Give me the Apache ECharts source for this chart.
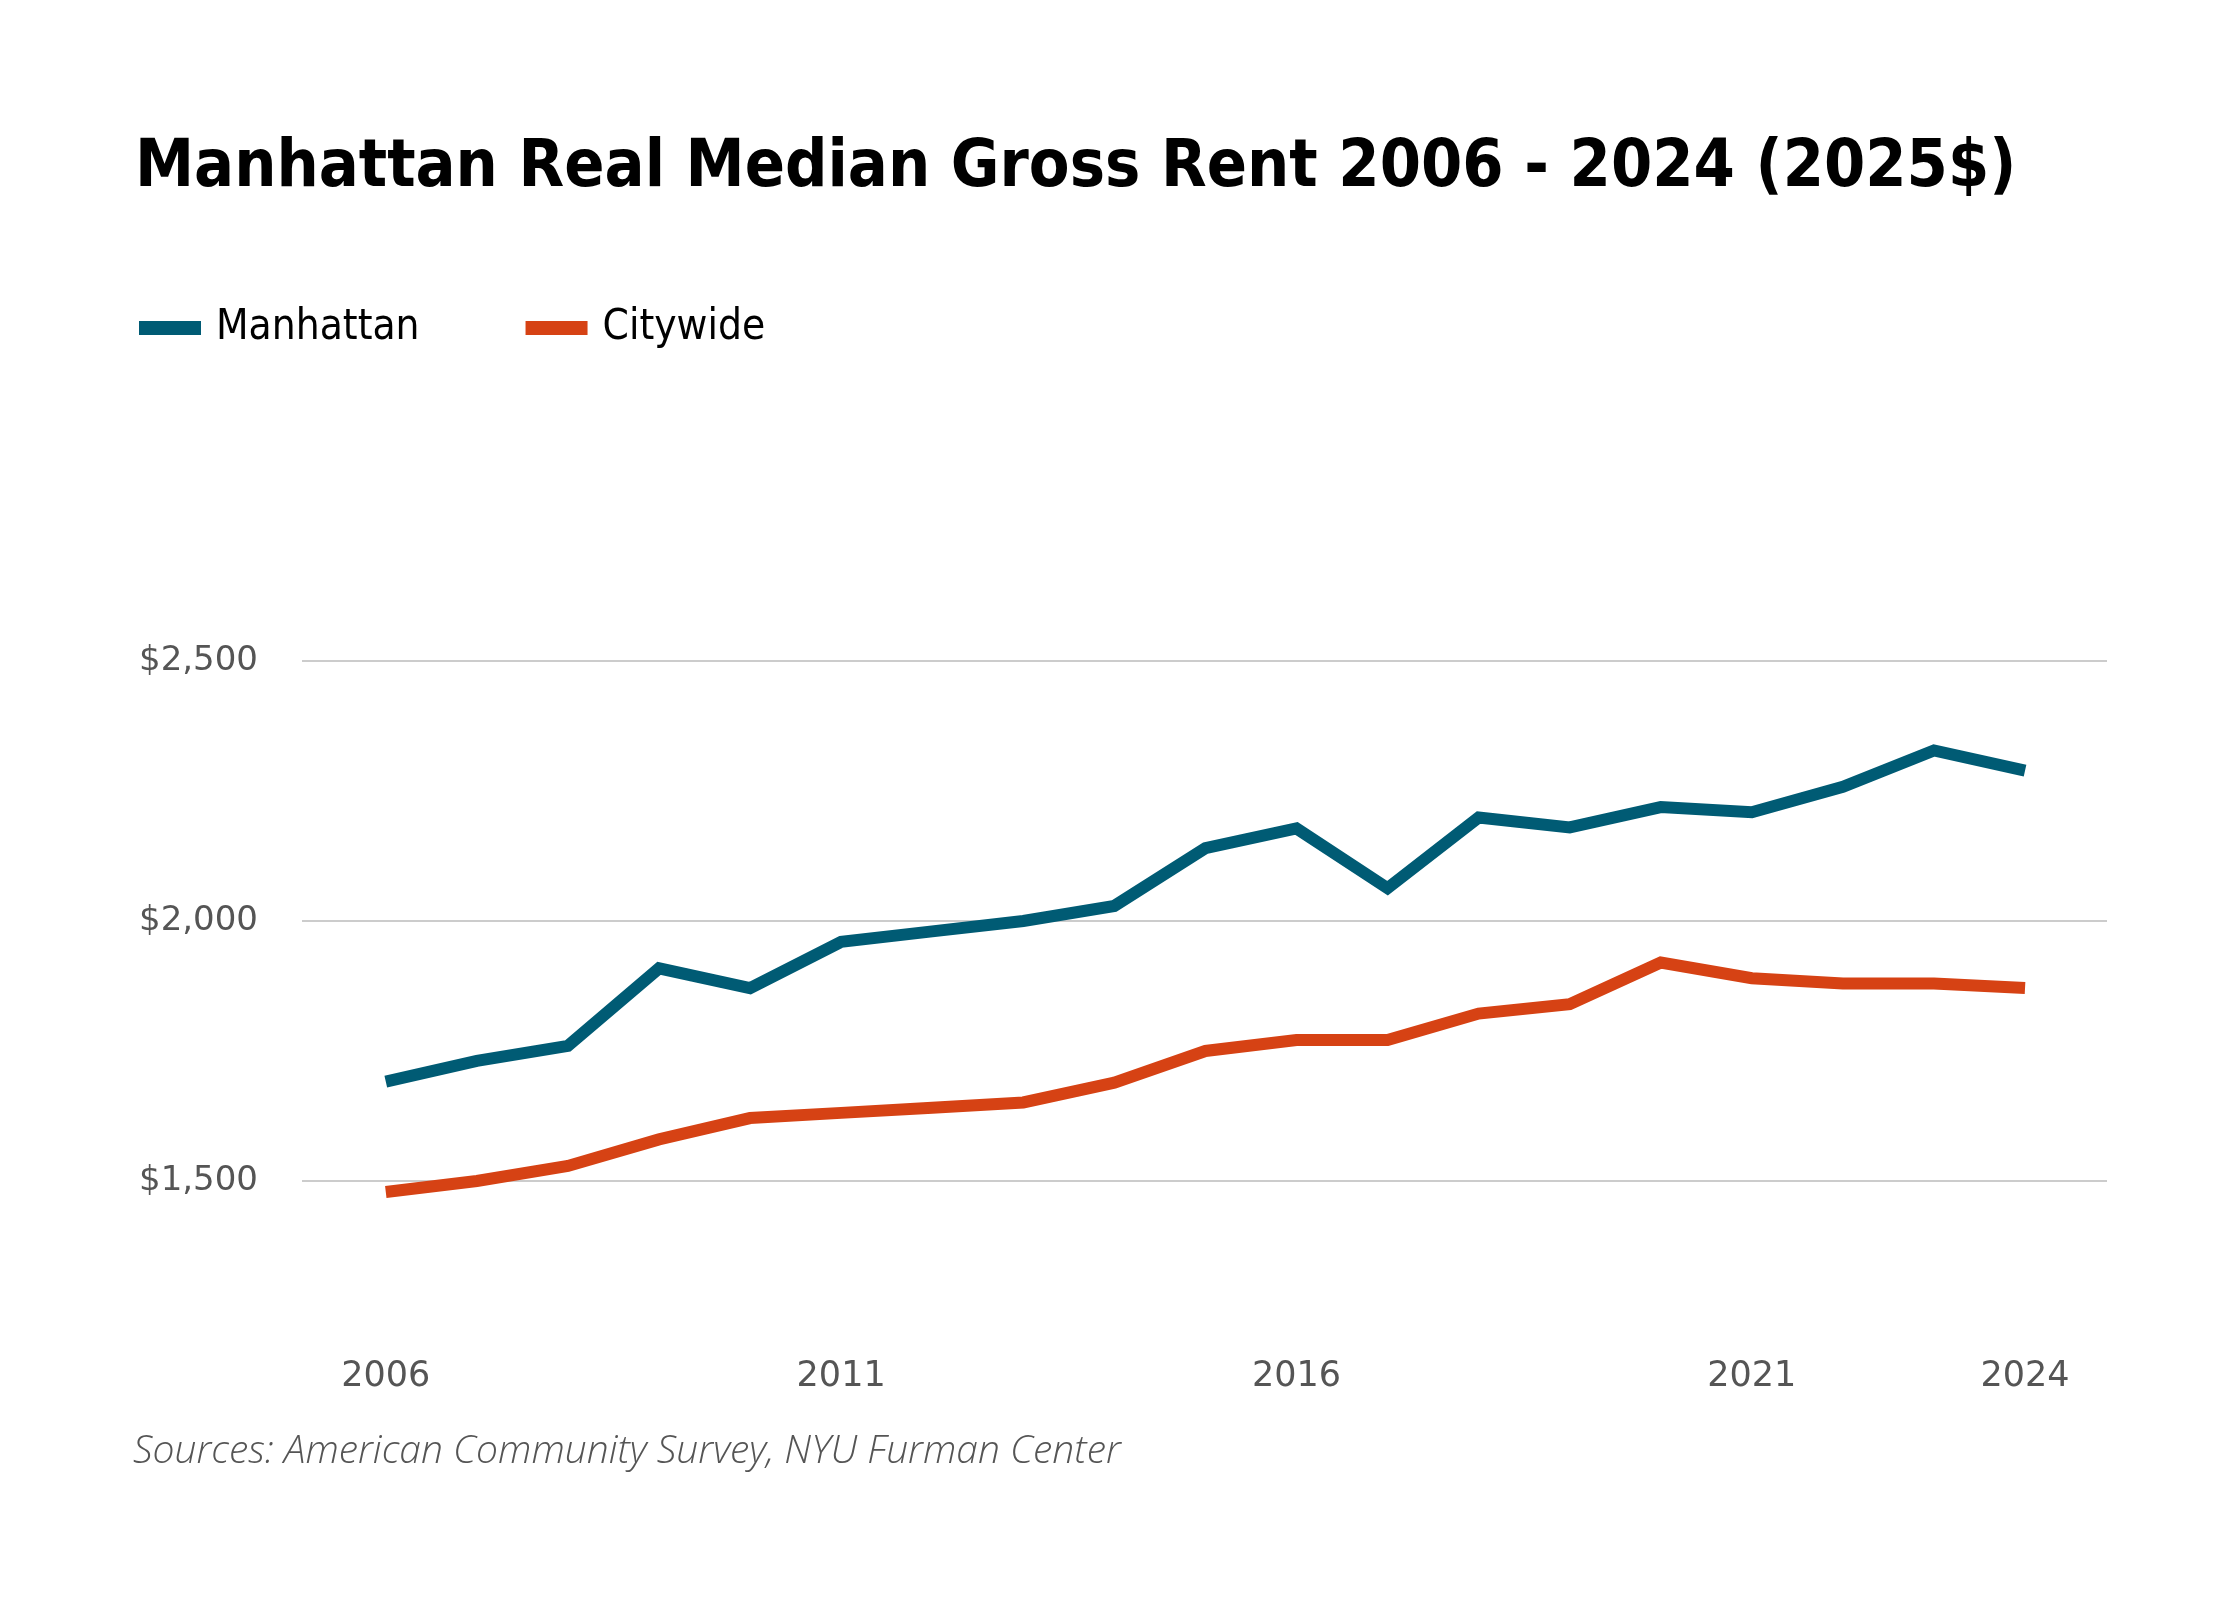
<!DOCTYPE html>
<html>
<head>
<meta charset="utf-8">
<title>Manhattan Real Median Gross Rent</title>
<script src="https://cdn.jsdelivr.net/npm/echarts@6/dist/echarts.min.js"></script>
<style>
  html, body { margin: 0; padding: 0; background: #fff; }
  #main { width: 2240px; height: 1600px; }
</style>
</head>
<body>
<div id="main"></div>
<script>
// values (2025 dollars)
const years = [2006, 2007, 2008, 2009, 2010, 2011, 2012, 2013, 2014, 2015,
  2016, 2017, 2018, 2019, 2020, 2021, 2022, 2023, 2024];
const manhattan = [1691, 1731, 1760, 1909, 1871, 1960, 1980, 2000, 2029, 2140,
  2178, 2063, 2199, 2180, 2219, 2209, 2258, 2328, 2289];
const citywide = [1479, 1500, 1529, 1580, 1621, 1631, 1641, 1651, 1689, 1750,
  1771, 1771, 1822, 1840, 1920, 1890, 1880, 1880, 1871];
const yearLabels = [2006, 2011, 2016, 2021, 2024];

const font = "'DejaVu Sans Condensed', 'Liberation Sans', sans-serif";
const tickFont = "'DejaVu Sans', sans-serif";

function pairs(vals) {
  return years.map((y, i) => [y, vals[i]]);
}

function money(v) {
  return "$" + v.toLocaleString("en-US");
}

const options = {
  backgroundColor: "#ffffff",
  animation: false,
  title: {
    text: "Manhattan Real Median Gross Rent 2006 - 2024 (2025$)",
    left: 130,
    top: 131,
    textStyle: {
      fontFamily: font,
      fontWeight: "bold",
      fontSize: 66,
      color: "#000000"
    }
  },
  legend: {
    left: 134,
    top: 302,
    icon: "rect",
    itemWidth: 62,
    itemHeight: 14,
    itemGap: 106,
    textStyle: {
      fontFamily: font,
      fontSize: 42,
      color: "#000000",
      padding: [0, 0, 0, 10]
    },
    data: ["Manhattan", "Citywide"]
  },
  grid: {
    left: 302,
    right: 133,
    top: 661,
    bottom: 419
  },
  xAxis: {
    type: "value",
    min: 2005.08,
    max: 2024.9,
    axisLine: { show: false },
    axisTick: { show: false },
    splitLine: { show: false },
    axisLabel: {
      customValues: yearLabels,
      formatter: (v) => String(v),
      margin: 178,
      fontFamily: tickFont,
      fontSize: 35,
      color: "#555555"
    }
  },
  yAxis: {
    type: "value",
    min: 1500,
    max: 2500,
    interval: 500,
    axisLine: { show: false },
    axisTick: { show: false },
    splitLine: { lineStyle: { color: "#cccccc", width: 2 } },
    axisLabel: {
      formatter: money,
      margin: 44,
      fontFamily: tickFont,
      fontSize: 34,
      color: "#555555",
      padding: [14, 0, 0, 0]
    }
  },
  series: [
    {
      name: "Manhattan",
      type: "line",
      data: pairs(manhattan),
      showSymbol: false,
      clip: false,
      color: "#005b74",
      lineStyle: { width: 12, join: "miter" }
    },
    {
      name: "Citywide",
      type: "line",
      data: pairs(citywide),
      showSymbol: false,
      clip: false,
      color: "#d64214",
      lineStyle: { width: 12, join: "miter" }
    }
  ],
  graphic: [
    {
      type: "text",
      left: 133,
      top: 1432,
      style: {
        text: "Sources: American Community Survey, NYU Furman Center",
        fontFamily: "'Open Sans', sans-serif",
        fontStyle: "italic",
        fontWeight: 300,
        fontSize: 39,
        fill: "#555555"
      }
    }
  ]
};

var myChart = echarts.init(document.getElementById("main"));
myChart.setOption(options);
window.onresize = function() {
  myChart.resize();
};
</script>
</body>
</html>
